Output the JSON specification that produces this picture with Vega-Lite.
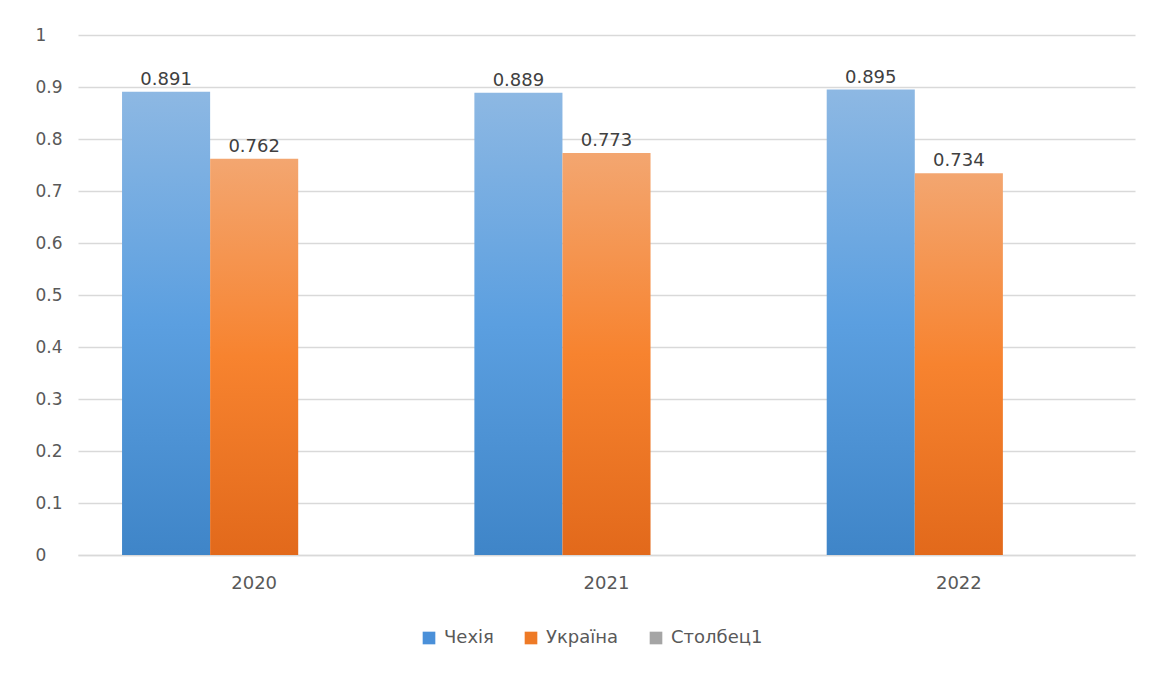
{
  "$schema": "https://vega.github.io/schema/vega-lite/v6.json",
  "autosize": "none",
  "width": 1057,
  "height": 520,
  "padding": {"left": 78, "top": 35, "right": 22, "bottom": 120},
  "background": "white",
  "data": {
    "values": [
      {"year": "2020", "series": "Чехія", "value": 0.891},
      {"year": "2020", "series": "Україна", "value": 0.762},
      {"year": "2021", "series": "Чехія", "value": 0.889},
      {"year": "2021", "series": "Україна", "value": 0.773},
      {"year": "2022", "series": "Чехія", "value": 0.895},
      {"year": "2022", "series": "Україна", "value": 0.734}
    ]
  },
  "encoding": {
    "x": {
      "field": "year", "type": "nominal",
      "scale": {"paddingInner": 0.25, "paddingOuter": 0.125},
      "axis": {"title": null, "labelAngle": 0, "ticks": false, "domainColor": "#D9D9D9", "domainWidth": 1.5, "labelFontSize": 18, "labelColor": "#595959", "labelPadding": 19, "labelFont": "DejaVu Sans"}
    },
    "xOffset": {
      "field": "series", "type": "nominal",
      "scale": {"domain": ["Чехія", "Україна", "Столбец1"], "paddingInner": 0, "paddingOuter": 0}
    },
    "y": {
      "field": "value", "type": "quantitative",
      "scale": {"domain": [0, 1], "nice": false},
      "axis": {"title": null, "values": [0, 0.1, 0.2, 0.3, 0.4, 0.5, 0.6, 0.7, 0.8, 0.9, 1], "format": "~g", "labelOverlap": false, "domain": false, "ticks": false, "gridColor": "#D9D9D9", "gridWidth": 1.5, "labelAlign": "left", "labelPadding": 43, "labelFontSize": 17, "labelColor": "#595959", "labelFont": "DejaVu Sans"}
    }
  },
  "layer": [
    {
      "mark": {"type": "bar", "opacity": 0},
      "encoding": {
        "color": {
          "field": "series", "type": "nominal",
          "scale": {"domain": ["Чехія", "Україна", "Столбец1"], "range": ["#4A90D9", "#EE7A26", "#A5A5A5"]},
          "legend": {"title": null, "orient": "none", "legendX": 342, "legendY": 594, "direction": "horizontal", "symbolType": "square", "symbolSize": 160, "symbolOpacity": 1, "symbolStrokeWidth": 0, "labelFontSize": 18, "labelColor": "#595959", "labelFont": "DejaVu Sans", "columnPadding": 28, "labelOffset": 6}
        }
      }
    },
    {
      "mark": {"type": "bar"},
      "encoding": {
        "fill": {
          "condition": {
            "test": "datum.series === 'Чехія'",
            "value": {"gradient": "linear", "x1": 0, "y1": 0, "x2": 0, "y2": 1, "stops": [{"offset": 0, "color": "#8DB8E3"}, {"offset": 0.5, "color": "#5B9FE0"}, {"offset": 1, "color": "#3F85C8"}]}
          },
          "value": {"gradient": "linear", "x1": 0, "y1": 0, "x2": 0, "y2": 1, "stops": [{"offset": 0, "color": "#F3A670"}, {"offset": 0.5, "color": "#F7832F"}, {"offset": 1, "color": "#E2691B"}]}
        }
      }
    },
    {
      "mark": {"type": "text", "dy": -12, "fontSize": 18, "color": "#404040", "font": "DejaVu Sans"},
      "encoding": {
        "text": {"field": "value", "type": "quantitative", "format": ".3f"}
      }
    }
  ],
  "config": {
    "view": {"stroke": null}
  }
}
